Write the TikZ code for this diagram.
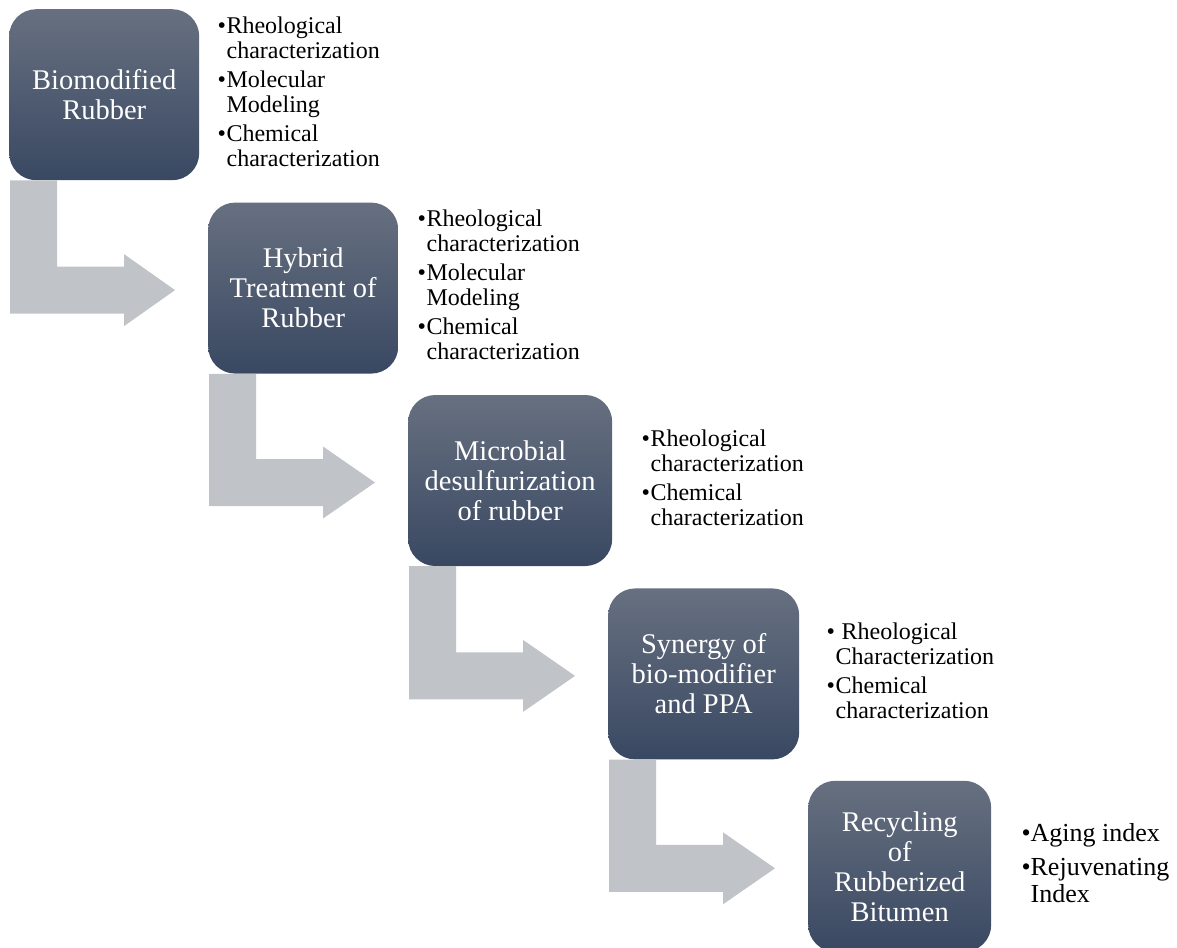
\documentclass[tikz,border=0pt]{standalone}
\usepackage{fontspec}
\setmainfont{Liberation Serif}
\usetikzlibrary{positioning,calc}

\definecolor{boxtop}{RGB}{103,112,128}
\definecolor{boxbot}{RGB}{57,72,98}
\definecolor{arrgray}{RGB}{192,195,199}

\newcommand{\bul}{\makebox[9pt][l]{\textbullet}}
% bent grey arrow from the foot of one step to the next step
\newcommand{\steparrow}[2]{%
  \fill[arrgray] let \p1=(#1.south west), \p2=(#2.west) in
    (\x1+1pt,\y1) -- (\x1+48pt,\y1) -- (\x1+48pt,\y2+21.5pt) -- (\x1+115pt,\y2+21.5pt)
    -- (\x1+115pt,\y2+34pt) -- (\x2-33pt,\y2-2pt) -- (\x1+115pt,\y2-38pt)
    -- (\x1+115pt,\y2-25.5pt) -- (\x1+1pt,\y2-25.5pt) -- cycle;}

\begin{document}
\begin{tikzpicture}[x=1pt, y=-1pt,
      stepbox/.style={rounded corners=27pt, top color=boxtop, bottom color=boxbot,
                      minimum height=171pt, inner sep=0pt, align=center, text=white,
                      font={\fontsize{28.5}{30}\selectfont}},          % one box per step
      notes/.style={inner sep=0pt, align=left,
                    font={\fontsize{24}{25}\selectfont}}]             % bullet list beside a step
    \useasboundingbox (0,0) rectangle (1177,947);
    \node[stepbox, minimum width=190pt, anchor=north west] (bio) at (9,9) {Biomodified\\Rubber};
    \node[stepbox, minimum width=190pt, below right=22pt and 199pt of bio.south west] (hyb) {Hybrid\\Treatment of\\Rubber};
    \node[stepbox, minimum width=204pt, below right=21pt and 200pt of hyb.south west] (mic) {Microbial\\desulfurization\\of rubber};
    \node[stepbox, minimum width=191pt, below right=22pt and 200pt of mic.south west] (syn) {Synergy of\\bio-modifier\\and PPA};
    \node[stepbox, minimum width=183pt, below right=21pt and 200pt of syn.south west] (rec) {Recycling\\of\\Rubberized\\Bitumen};

    \node[notes, right=18pt of bio] (biolist) {\begin{tabular}{@{}l@{}l@{}}
        \bul & Rheological\\ & characterization\\[4pt]
        \bul & Molecular\\ & Modeling\\[4pt]
        \bul & Chemical\\ & characterization\end{tabular}};
    \node[notes, right=19pt of hyb] (hyblist) {\begin{tabular}{@{}l@{}l@{}}
        \bul & Rheological\\ & characterization\\[4pt]
        \bul & Molecular\\ & Modeling\\[4pt]
        \bul & Chemical\\ & characterization\end{tabular}};
    \node[notes, right=29pt of mic] (miclist) {\begin{tabular}{@{}l@{}l@{}}
        \bul & Rheological\\ & characterization\\[4pt]
        \bul & Chemical\\ & characterization\end{tabular}};
    \node[notes, right=27pt of syn] (synlist) {\begin{tabular}{@{}l@{}l@{}}
        \bul & \ Rheological\\ & Characterization\\[4pt]
        \bul & Chemical\\ & characterization\end{tabular}};
    \node[notes, right=30pt of rec, font={\fontsize{26}{27}\selectfont}] (reclist) {\begin{tabular}{@{}l@{}l@{}}
        \bul & Aging index\\[7pt]
        \bul & Rejuvenating\\ & Index\end{tabular}};

    \steparrow{bio}{hyb}
    \steparrow{hyb}{mic}
    \steparrow{mic}{syn}
    \steparrow{syn}{rec}
  \end{tikzpicture}
\end{document}
